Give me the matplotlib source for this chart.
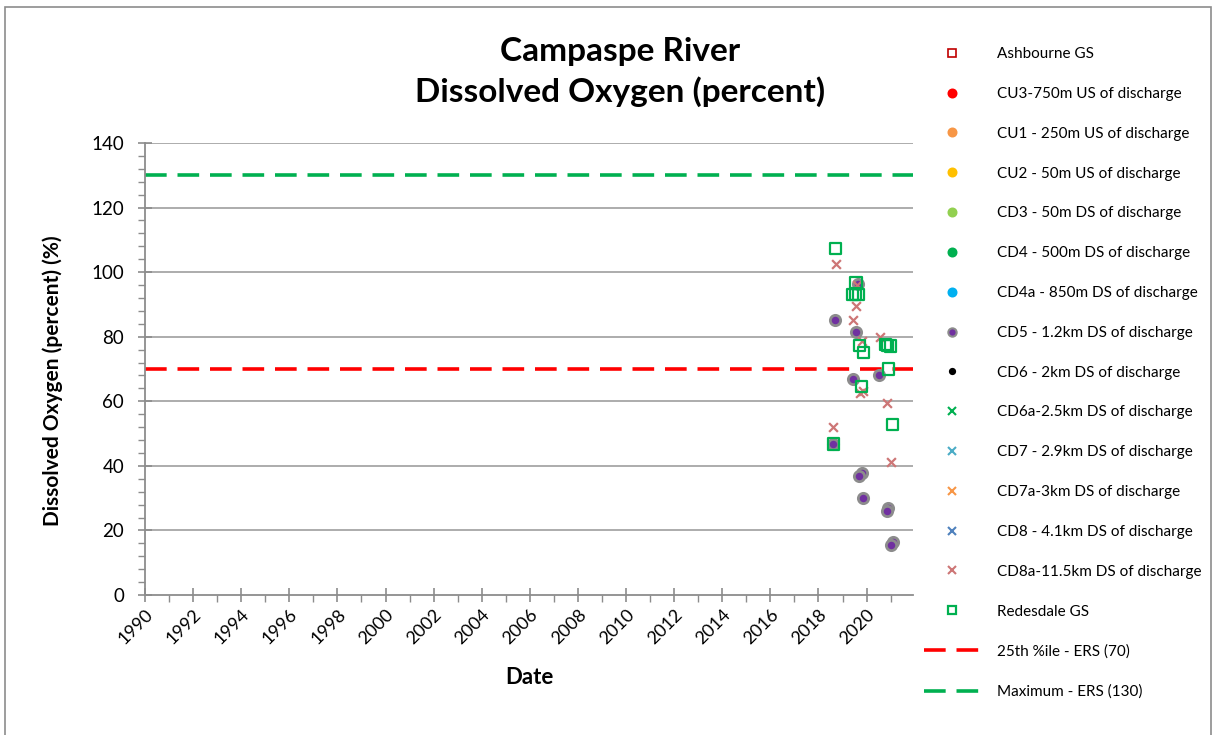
import matplotlib
matplotlib.use("Agg")
import matplotlib.pyplot as plt
from matplotlib.lines import Line2D
from matplotlib.patches import Rectangle

plt.rcParams['font.family'] = ['Lato', 'DejaVu Sans']

# ---- data (decimal years, percent) ----
redesdale_x = [2018.72, 2019.56, 2019.40, 2019.54, 2019.68, 2019.72, 2019.86, 2019.79,
               2020.90, 2020.78, 2020.88, 2020.99, 2021.08, 2018.62]
redesdale_y = [107.2, 96.7, 93.1, 93.1, 93.1, 77.2, 75.2, 64.7,
               70.0, 77.5, 77.3, 77.1, 52.9, 46.8]

cd5_x = [2018.69, 2019.63, 2019.56, 2019.45, 2020.52, 2018.62, 2019.79, 2019.69,
         2019.86, 2020.91, 2020.83, 2021.11, 2021.01]
cd5_y = [85.2, 96.2, 81.5, 66.8, 68.2, 46.8, 37.7, 36.9,
         30.1, 26.8, 26.0, 16.5, 15.5]

cd8a_x = [2018.72, 2019.60, 2019.54, 2019.45, 2019.79, 2020.55, 2019.72, 2019.86,
          2020.84, 2018.62, 2021.00]
cd8a_y = [102.4, 96.0, 89.6, 85.2, 78.8, 79.8, 62.5, 63.2,
          59.4, 52.1, 41.3]

ers_25th = 70
ers_max = 130

x_ticks = list(range(1990, 2021, 2))
y_ticks = list(range(0, 141, 20))

# ---- figure ----
fig = plt.figure(figsize=(12.16, 7.35), dpi=100)
ax = fig.add_axes([145/1216, 1-595/735, (913-145)/1216, (595-143)/735])

ax.set_xlim(1990, 2021.93)
ax.set_ylim(0, 140)

grid_c = '#A6A6A6'
for yv in y_ticks[1:]:
    ax.axhline(yv, color=grid_c, lw=1.3, zorder=1)

ax.axhline(ers_25th, color='#FF0000', lw=2.6, ls=(0, (6, 3)), zorder=2)
ax.axhline(ers_max, color='#00B050', lw=2.6, ls=(0, (6, 3)), zorder=2)

ax.scatter(cd5_x, cd5_y, s=55, facecolor='#7030A0', edgecolor='#8C8C8C', linewidths=2.0, zorder=4)
ax.scatter(cd8a_x, cd8a_y, s=40, marker='x', color='#CD7676', linewidths=1.6, zorder=5)
ax.scatter(redesdale_x, redesdale_y, s=65, marker='s', facecolor='none', edgecolor='#00B050',
           linewidths=1.6, zorder=6)

for s in ['top', 'right']:
    ax.spines[s].set_visible(False)
for s in ['left', 'bottom']:
    ax.spines[s].set_color('#8C8C8C')
    ax.spines[s].set_linewidth(1.3)

ax.set_xticks(x_ticks)
ax.set_xticks(range(1991, 2022, 2), minor=True)
ax.set_yticks(y_ticks)
ax.set_yticks(range(0, 141, 4), minor=True)
ax.set_xticklabels([str(v) for v in x_ticks], rotation=45, ha='right', va='top',
                   rotation_mode='anchor', fontsize=13)
ax.set_yticklabels([str(v) for v in y_ticks], fontsize=13.5)
ax.tick_params(axis='both', which='major', direction='inout', length=10, color='#8C8C8C', width=1.2)
ax.tick_params(axis='both', which='minor', direction='out', length=5, color='#8C8C8C', width=1.0)
ax.tick_params(axis='x', which='major', pad=3)
ax.tick_params(axis='y', which='major', pad=10)

fig.text(53/1216, 1-381/735, 'Dissolved Oxygen (percent) (%)', rotation=90, ha='center', va='center',
         fontsize=15, fontweight='bold')
fig.text(529/1216, 1-677/735, 'Date', ha='center', va='center', fontsize=16, fontweight='bold')

fig.text(620/1216, 1-72/735, 'Campaspe River\nDissolved Oxygen (percent)', ha='center', va='center',
         fontsize=24, fontweight='bold', linespacing=1.38)

# legend
def mk(marker, color, face=None, ms=6, mew=1.2, edge=None):
    return Line2D([], [], ls='none', marker=marker, markersize=ms,
                  markerfacecolor=face if face is not None else color,
                  markeredgecolor=edge if edge is not None else color, markeredgewidth=mew)

handles = [
    mk('s', '#C00000', face='none', ms=6),
    mk('o', '#FF0000', ms=6),
    mk('o', '#F79646', ms=6),
    mk('o', '#FFC000', ms=6),
    mk('o', '#92D050', ms=6),
    mk('o', '#00B050', ms=6),
    mk('o', '#00B0F0', ms=6),
    mk('o', '#7030A0', edge='#8C8C8C', ms=6, mew=1.5),
    mk('o', '#000000', ms=4),
    mk('x', '#00B050', ms=6, mew=1.5),
    mk('x', '#4BACC6', ms=6, mew=1.5),
    mk('x', '#F79646', ms=6, mew=1.5),
    mk('x', '#4F81BD', ms=6, mew=1.5),
    mk('x', '#CD7676', ms=6, mew=1.5),
    mk('s', '#00B050', face='none', ms=6, mew=1.6),
    Line2D([], [], color='#FF0000', lw=2.6, ls=(0, (6, 3))),
    Line2D([], [], color='#00B050', lw=2.6, ls=(0, (6, 3))),
]
labels = ['Ashbourne GS', 'CU3-750m US of discharge', 'CU1 - 250m US of discharge',
          'CU2 - 50m US of discharge', 'CD3 - 50m DS of discharge', 'CD4 - 500m DS of discharge',
          'CD4a - 850m DS of discharge', 'CD5 - 1.2km DS of discharge', 'CD6 - 2km DS of discharge',
          'CD6a-2.5km DS of discharge', 'CD7 - 2.9km DS of discharge', 'CD7a-3km DS of discharge',
          'CD8 - 4.1km DS of discharge', 'CD8a-11.5km DS of discharge', 'Redesdale GS',
          '25th %ile - ERS (70)', 'Maximum - ERS (130)']
fig.legend(handles, labels, loc='upper left', bbox_to_anchor=(918/1216, 1-41/735),
           frameon=False, fontsize=11, handlelength=3.6, handletextpad=1.2,
           labelspacing=1.69, borderaxespad=0)

fig.add_artist(Rectangle((4.5/1216, -0.01), (1211-4.5)/1216, 1.01-6.7/735, transform=fig.transFigure,
                         fill=False, edgecolor='#8C8C8C', lw=1.2))

fig.savefig('out.png', dpi=100)
